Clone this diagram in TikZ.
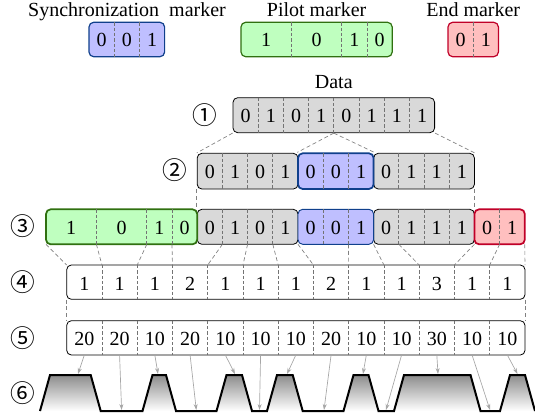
\documentclass[tikz,border=0pt]{standalone}
\usepackage{fontspec}
\setmainfont{Liberation Serif}
\newfontfamily\circfont{Noto Sans CJK SC}
\usetikzlibrary{fit,arrows.meta}
\definecolor{syncline}{RGB}{16,64,140}
\definecolor{pilotline}{RGB}{48,112,16}
\definecolor{endline}{RGB}{192,0,40}
\tikzset{
  seg/.style={rounded corners=3.5pt,inner sep=0pt,line width=0.6pt},
  databox/.style={seg,draw=black,fill=gray!30},
  syncbox/.style={seg,draw=syncline,fill=blue!25},
  pilotbox/.style={seg,draw=pilotline,fill=green!25},
  endbox/.style={seg,draw=endline,fill=red!25},
  numbox/.style={seg,draw=black,fill=white},
  bit/.style={font=\fontsize{15}{18}\selectfont,inner sep=0pt},
  title/.style={font=\fontsize{15}{18}\selectfont,inner sep=0pt,anchor=base},
  rowno/.style={font=\circfont\fontsize{18.5}{22}\selectfont,inner sep=0pt},
  cell/.style={draw=gray!90!black,line width=0.5pt,dash pattern=on 2.5pt off 1.5pt},
  link/.style={draw=gray,line width=0.5pt,dash pattern=on 3pt off 2pt},
  pulse/.style={-{Stealth[length=4.5pt,width=3pt]},draw=gray!70,line width=0.5pt}
}
% cifre in una riga: prefisso, x sinistra, y centro, testo/posizione
\newcommand\bitrow[4]{\foreach \tx/\cx [count=\i] in {#4} \node[bit] (#1-\i) at (#2+25.2*\cx,#3) {\tx};}
% separatori tratteggiati: x sinistra, alto, basso, posizioni
\newcommand\cuts[4]{\foreach \cx in {#4} \draw[cell] (#1+25.2*\cx,#2) -- (#1+25.2*\cx,#3);}
\begin{document}
\begin{tikzpicture}[x=0.75pt,y=-0.75pt]
    \useasboundingbox (0,0) rectangle (535,419);
    % marcatori
    \node[syncbox,line width=0.9pt,fit={(89,22.3) (164.6,56.7)}] (sync0) {};
    \bitrow{s0}{89}{40}{0/0.5,0/1.5,1/2.5}\cuts{89}{22.3}{56.7}{1,2}
    \node[title] (lsync) at (127,16.5) {Synchronization~~marker};
    \node[pilotbox,line width=0.9pt,fit={(241,22.3) (392.2,56.7)}] (pilot0) {};
    \bitrow{p0}{241}{40}{1/1,0/3,1/4.5,0/5.5}\cuts{241}{22.3}{56.7}{2,4,5}
    \node[title] (lpilot) at (316.6,16.5) {Pilot marker};
    \node[endbox,line width=0.9pt,fit={(448,22.3) (498.4,56.7)}] (end0) {};
    \bitrow{e0}{448}{40}{0/0.5,1/1.5}\cuts{448}{22.3}{56.7}{1}
    \node[title] (lend) at (473.2,16.5) {End marker};
    % riga 1: dati
    \node[title] (ldata) at (333.8,88.3) {Data};
    \node[databox,fit={(233,97.7) (434.6,132.7)}] (data1) {};
    \bitrow{d1}{233}{116}{0/0.5,1/1.5,0/2.5,1/3.5,0/4.5,1/5.5,1/6.5,1/7.5}\cuts{233}{97.7}{132.7}{1,...,7}
    \node[rowno] (n1) at (205,115) {①};
    % riga 2: dati + sincronismo
    \node[databox,fit={(197.2,153.3) (298,189)}] (dataA2) {};
    \node[databox,fit={(373.6,153.3) (474.4,189)}] (dataB2) {};
    \node[syncbox,line width=1.3pt,fit={(298,153.3) (373.6,189)}] (sync2) {};
    \bitrow{a2}{197.2}{172}{0/0.5,1/1.5,0/2.5,1/3.5}\cuts{197.2}{153.3}{189}{1,2,3}
    \bitrow{s2}{298}{172}{0/0.5,0/1.5,1/2.5}\cuts{298}{153.3}{189}{1,2}
    \bitrow{b2}{373.6}{172}{0/0.5,1/1.5,1/2.5,1/3.5}\cuts{373.6}{153.3}{189}{1,2,3}
    \node[rowno] (n2) at (175,170) {②};
    \draw[link] (data1.south west) -- (dataA2.north west);\draw[link] (data1.south) -- (sync2.north west);
    \draw[link] (data1.south) -- (sync2.north east);\draw[link] (data1.south east) -- (dataB2.north east);
    % riga 3: pilota + dati + fine
    \node[databox,fit={(197.2,209.3) (298,244.3)}] (dataA3) {};
    \node[databox,fit={(373.6,209.3) (474.4,244.3)}] (dataB3) {};
    \node[syncbox,line width=0.7pt,fit={(298,209.3) (373.6,244.3)}] (sync3) {};
    \node[pilotbox,line width=1.3pt,fit={(46,209.3) (197.2,244.3)}] (pilot3) {};
    \node[endbox,line width=1.3pt,fit={(474.4,209.3) (524.8,244.3)}] (end3) {};
    \bitrow{p3}{46}{228}{1/1,0/3,1/4.5,0/5.5}\cuts{46}{209.3}{244.3}{2,4,5}
    \bitrow{a3}{197.2}{228}{0/0.5,1/1.5,0/2.5,1/3.5}\cuts{197.2}{209.3}{244.3}{1,2,3}
    \bitrow{s3}{298}{228}{0/0.5,0/1.5,1/2.5}\cuts{298}{209.3}{244.3}{1,2}
    \bitrow{b3}{373.6}{228}{0/0.5,1/1.5,1/2.5,1/3.5}\cuts{373.6}{209.3}{244.3}{1,2,3}
    \bitrow{e3}{474.4}{228}{0/0.5,1/1.5}\cuts{474.4}{209.3}{244.3}{1}
    \node[rowno] (n3) at (23,226) {③};
    \draw[link] (dataA2.south west) -- (dataA3.north west);\draw[link] (dataB2.south east) -- (dataB3.north east);
    % riga 4: lunghezze
    \node[numbox,fit={(66.7,265) (525,299.3)}] (runs4) {};
    \foreach \tx [count=\i] in {1,1,1,2,1,1,1,2,1,1,3,1,1} \node[bit] (r4-\i) at (66.7+35.25*\i-17.62,283.5) {\tx};
    \foreach \i in {1,...,12} \draw[cell] (66.7+35.25*\i,265) -- (66.7+35.25*\i,299.3);
    \node[rowno] (n4) at (23,282) {④};
    \foreach \k in {0,...,19} \coordinate (b3-\k) at (46+25.2*\k,244.3);
    \foreach \i in {0,...,13} \coordinate (t4-\i) at (66.7+35.25*\i,265);
    \foreach \k/\i in {0/0,2/1,4/2,5/3,7/4,8/5,9/6,10/7,12/8,13/9,14/10,17/11,18/12,19/13} \draw[link] (b3-\k) -- (t4-\i);
    % riga 5: durate
    \node[numbox,fit={(66.7,320.7) (525,355)}] (times5) {};
    \foreach \tx [count=\i] in {20,20,10,20,10,10,10,20,10,10,30,10,10} \node[bit] (t5-\i) at (66.7+35.25*\i-17.62,339) {\tx};
    \foreach \i in {1,...,12} \draw[cell] (66.7+35.25*\i,320.7) -- (66.7+35.25*\i,355);
    \node[rowno] (n5) at (23,338) {⑤};
    \draw[link] (runs4.south west) -- (times5.north west);\draw[link] (runs4.south east) -- (times5.north east);
    % riga 6: forma d'onda
    \foreach \a/\b in {40/90.7,142.5/166,216.5/242,267/292.7,343.5/368.5,394/470.5,500/525}
        \shade[top color=black!45,bottom color=white] (\a,411) -- (\a+10,375) -- (\b,375) -- (\b+10,411) -- cycle;
    \foreach \i in {1,...,13} \coordinate (s5-\i) at (66.7+35.25*\i-17.62,355);
    \foreach \x/\y [count=\i] in {78/374,121.6/410,158/374,196.3/410,235/374,259.5/410,287/374,324/410,363/374,386/410,438/374,490/410,517.5/374}
        \coordinate (w\i) at (\x,\y);
    \foreach \i in {1,...,13} \draw[pulse] (s5-\i) -- (w\i);
    \draw[line width=1.5pt,line join=miter] (40,411) -- (50,375) -- (90.7,375) -- (100.7,411) -- (142.5,411) -- (152.5,375) -- (166,375) -- (176,411)
        -- (216.5,411) -- (226.5,375) -- (242,375) -- (252,411) -- (267,411) -- (277,375) -- (292.7,375) -- (302.7,411) -- (343.5,411)
        -- (353.5,375) -- (368.5,375) -- (378.5,411) -- (394,411) -- (404,375) -- (470.5,375) -- (480.5,411) -- (500,411) -- (510,375)
        -- (525,375) -- (535,411);
    \node[rowno] (n6) at (23,393) {⑥};
\end{tikzpicture}
\end{document}
